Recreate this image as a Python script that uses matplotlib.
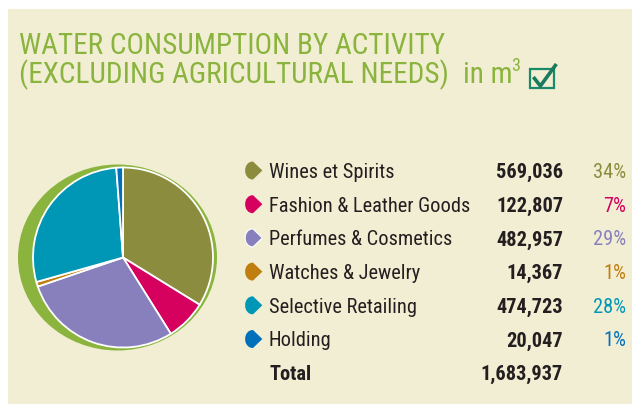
import matplotlib
matplotlib.use("Agg")
import matplotlib.pyplot as plt
from matplotlib import font_manager as fm
from matplotlib.patches import Ellipse, Rectangle, PathPatch
from matplotlib.path import Path
from matplotlib.transforms import Affine2D

# water consumption by business group, m3
activities = [
    "Wines et Spirits",
    "Fashion & Leather Goods",
    "Perfumes & Cosmetics",
    "Watches & Jewelry",
    "Selective Retailing",
    "Holding",
]
consumption = [569036, 122807, 482957, 14367, 474723, 20047]
colors = ["#8c8c3e", "#d6005f", "#8880bc", "#c07e10", "#0097b6", "#0070bb"]

BG = "#f2eed3"
GREEN = "#8ab43e"
INK = "#231f20"


def pick_font():
    # a narrow face suits the layout best, fall back to Roboto
    for fam in ["Liberation Sans Narrow", "DejaVu Sans Condensed", "Roboto Condensed"]:
        try:
            fm.findfont(fm.FontProperties(family=fam), fallback_to_default=False)
            return fam, "normal"
        except ValueError:
            pass
    path = fm.findfont(fm.FontProperties(family="DejaVu Sans", stretch="condensed"))
    if "Condensed" in path:
        return "DejaVu Sans", "condensed"
    return "Roboto", "normal"


FAMILY, STRETCH = pick_font()
FONT = dict(family=[FAMILY, "DejaVu Sans"], stretch=STRETCH)

W, H = 632, 404
fig = plt.figure(figsize=(W / 100, H / 100), dpi=100)
fig.patch.set_facecolor("white")
ax = fig.add_axes([0, 0, 1, 1])
renderer = fig.canvas.get_renderer()


def text_width(text, size, **kw):
    t = ax.text(0, 0, text, fontsize=size, **FONT, **kw)
    w = t.get_window_extent(renderer).width
    t.remove()
    return w


def fit_size(text, width, probe=20, **kw):
    # font size that makes `text` span `width` pixels
    return probe * width / text_width(text, probe, **kw)


# pie first, since it resets the limits
cx, cy, r = 123, 257.5, 90
ax.add_patch(Ellipse((117.5, 257.5), 199, 186, facecolor=GREEN, edgecolor="none", zorder=1))
ax.pie(consumption, colors=colors, startangle=-90, counterclock=True,
       center=(cx, cy), radius=r,
       wedgeprops=dict(edgecolor="white", linewidth=1.3, zorder=2))

ax.set_xlim(0, W)
ax.set_ylim(H, 0)
ax.set_aspect("auto")
ax.axis("off")
ax.add_patch(Rectangle((8, 9), W - 8, H - 9, facecolor=BG, edgecolor="none", zorder=0))

# title
title_size = fit_size("WATER CONSUMPTION BY ACTIVITY", 426)
title_kw = dict(color=GREEN, ha="left", va="baseline", **FONT)
line2 = "(EXCLUDING AGRICULTURAL NEEDS)"
ax.text(19, 54, "WATER CONSUMPTION BY ACTIVITY", fontsize=title_size, **title_kw)
ax.text(19, 83, line2, fontsize=title_size, **title_kw)
unit_x = 19 + text_width(line2, title_size) + 14
ax.text(unit_x, 83, "in m", fontsize=title_size, **title_kw)
sup_x = unit_x + text_width("in m", title_size) - 1
ax.text(sup_x, 71, "3", fontsize=title_size * 0.62, **title_kw)
box_x = sup_x + text_width("3", title_size * 0.62) + 10

# check box after the title
ax.add_patch(Rectangle((box_x, 69), 24, 19, facecolor="none", edgecolor="#1a8a6a",
                       linewidth=1.6, zorder=3))
ax.plot([box_x + 3, box_x + 10, box_x + 26], [77, 86, 64], color="#1a7a5e", linewidth=2.6,
        solid_capstyle="butt", solid_joinstyle="miter", zorder=4)

# leaf shaped legend marker
leaf = Path(
    [(0.0, -0.5), (0.55, 0.0), (0.0, 0.5),
     (-0.62, 0.5), (-0.62, -0.5), (0.0, -0.5), (0.0, -0.5)],
    [Path.MOVETO, Path.LINETO, Path.LINETO,
     Path.CURVE4, Path.CURVE4, Path.CURVE4, Path.CLOSEPOLY],
)

size = fit_size("Fashion & Leather Goods", 201)
txt = dict(fontsize=size, va="baseline", **FONT)

total = sum(consumption)
row0, step = 178, 33.7
for i, (name, val, col) in enumerate(zip(activities, consumption, colors)):
    base = row0 + i * step
    mark = leaf.transformed(Affine2D().scale(17, 18).translate(253, base - 7.5))
    edge = "white" if i == 2 else "none"
    ax.add_patch(PathPatch(mark, facecolor=col, edgecolor=edge, linewidth=0.8, zorder=3))
    ax.text(269, base, name, color=INK, **txt)
    ax.text(563, base, f"{val:,}", color=INK, weight="bold", ha="right", **txt)
    ax.text(626, base, f"{round(val / total * 100)}%", color=col, ha="right", **txt)

base = row0 + len(activities) * step
ax.text(269, base, "Total", color=INK, weight="bold", **txt)
ax.text(563, base, f"{total:,}", color=INK, weight="bold", ha="right", **txt)

fig.savefig("out.png", dpi=100, facecolor=fig.get_facecolor())
